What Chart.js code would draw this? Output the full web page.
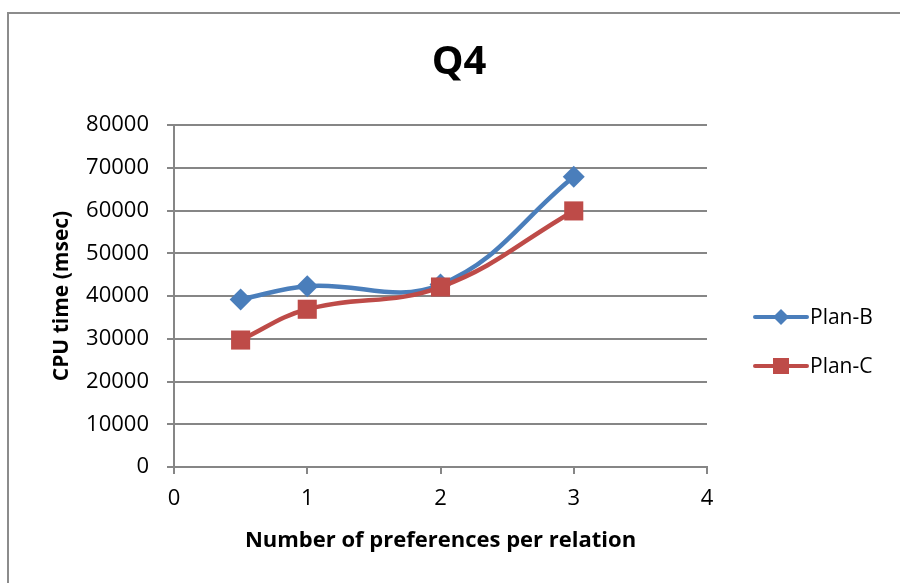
<!DOCTYPE html>
<html>
<head>
<meta charset="utf-8">
<script src="https://cdn.jsdelivr.net/npm/chart.js@4.4.1/dist/chart.umd.min.js"></script>
<style>
  html, body { margin: 0; padding: 0; background: #ffffff; }
  #wrap { width: 900px; height: 583px; position: relative; }
</style>
</head>
<body>
<div id="wrap"><canvas id="chart" width="900" height="583"></canvas></div>
<script>
// Preferences per relation (x) and CPU time in msec for each plan
const prefsPerRelation = [0.5, 1, 2, 3];
const planB = [39200, 42300, 42700, 67900];
const planC = [29700, 36900, 42100, 59900];
const seriesNames = ['Plan-B', 'Plan-C'];
const xTicks = [0, 1, 2, 3, 4];
const yTicks = [0, 10000, 20000, 30000, 40000, 50000, 60000, 70000, 80000];

const BLUE = '#4a7ebb';
const RED = '#be4b48';
const AXIS = '#868686';
const FONT = "'Open Sans', 'Liberation Sans', sans-serif";

const toPoints = (vals) => prefsPerRelation.map((x, i) => ({ x: x, y: vals[i] }));

// Outer frame around the chart
const framePlugin = {
  id: 'frame',
  beforeDraw(chart) {
    const ctx = chart.ctx;
    ctx.save();
    ctx.fillStyle = '#ffffff';
    ctx.fillRect(0, 0, chart.width, chart.height);
    ctx.strokeStyle = '#8c8c8c';
    ctx.lineWidth = 2;
    ctx.strokeRect(8, 13, chart.width + 20, chart.height + 20);
    ctx.restore();
  }
};

// Legend on the right: line sample with the series marker in the middle
const sideLegend = {
  id: 'sideLegend',
  afterDraw(chart) {
    const ctx = chart.ctx;
    const x0 = 755, x1 = 807, rowY = [317, 366];
    ctx.save();
    chart.data.datasets.forEach((ds, i) => {
      const y = rowY[i];
      ctx.strokeStyle = ds.borderColor;
      ctx.lineWidth = 4;
      ctx.lineCap = 'round';
      ctx.beginPath();
      ctx.moveTo(x0, y);
      ctx.lineTo(x1, y);
      ctx.stroke();
      ctx.fillStyle = ds.backgroundColor;
      const cx = (x0 + x1) / 2;
      if (ds.pointStyle === 'rectRot') {
        ctx.beginPath();
        ctx.moveTo(cx, y - 8);
        ctx.lineTo(cx + 8, y);
        ctx.lineTo(cx, y + 8);
        ctx.lineTo(cx - 8, y);
        ctx.closePath();
        ctx.fill();
      } else {
        ctx.fillRect(cx - 8, y - 8, 16, 16);
      }
      ctx.fillStyle = '#000000';
      ctx.font = "21px " + FONT;
      ctx.textAlign = 'left';
      ctx.textBaseline = 'middle';
      ctx.fillText(ds.label, x1 + 3, y + 1);
    });
    ctx.restore();
  }
};

new Chart(document.getElementById('chart'), {
  type: 'scatter',
  data: {
    datasets: [
      {
        label: seriesNames[0],
        data: toPoints(planB),
        order: 1,
        showLine: true,
        borderColor: BLUE,
        backgroundColor: BLUE,
        borderWidth: 4.5,
        tension: 0.4,
        pointStyle: 'rectRot',
        pointRadius: 11,
        pointBorderWidth: 0
      },
      {
        label: seriesNames[1],
        data: toPoints(planC),
        order: 0,
        showLine: true,
        borderColor: RED,
        backgroundColor: RED,
        borderWidth: 4.5,
        tension: 0.4,
        pointStyle: 'rect',
        pointRadius: 13.5,
        pointBorderWidth: 0
      }
    ]
  },
  options: {
    responsive: false,
    animation: false,
    events: [],
    layout: { padding: { left: 18, right: 0, top: 0, bottom: 0 } },
    plugins: {
      legend: { display: false },
      tooltip: { enabled: false },
      title: {
        display: true,
        text: 'Q4',
        color: '#000000',
        font: { family: FONT, size: 40, weight: 'bold' },
        padding: { top: 39, bottom: 38 }
      }
    },
    scales: {
      x: {
        type: 'linear',
        min: 0,
        max: 4,
        afterBuildTicks(scale) { scale.ticks = xTicks.map(v => ({ value: v })); },
        afterFit(scale) { scale.height = 116; },
        ticks: {
          color: '#000000',
          font: { family: FONT, size: 22 },
          padding: 12,
          callback: (v) => String(v)
        },
        grid: { drawOnChartArea: false, drawTicks: true, tickLength: 7, color: AXIS, lineWidth: 2 },
        border: { display: true, color: AXIS, width: 2 },
        title: {
          display: true,
          text: 'Number of preferences per relation',
          color: '#000000',
          font: { family: FONT, size: 22, weight: 'bold' },
          padding: { top: 0, bottom: 29 }
        }
      },
      y: {
        min: 0,
        max: 80000,
        afterBuildTicks(scale) { scale.ticks = yTicks.map(v => ({ value: v })); },
        afterFit(scale) { scale.width = 156; },
        ticks: {
          color: '#000000',
          font: { family: FONT, size: 22 },
          padding: 18,
          callback: (v) => String(v)
        },
        grid: { color: AXIS, lineWidth: 2, tickLength: 7, drawTicks: true },
        border: { display: true, color: AXIS, width: 2 },
        title: {
          display: true,
          text: 'CPU time (msec)',
          color: '#000000',
          font: { family: FONT, size: 21, weight: 'bold' },
          padding: { top: 31, bottom: 0 }
        }
      },
      // empty strip on the right that holds the legend
      side: {
        position: 'right',
        display: true,
        afterFit(scale) { scale.width = 193; },
        ticks: { display: false },
        grid: { display: false },
        border: { display: false }
      }
    }
  },
  plugins: [framePlugin, sideLegend]
});
</script>
</body>
</html>
